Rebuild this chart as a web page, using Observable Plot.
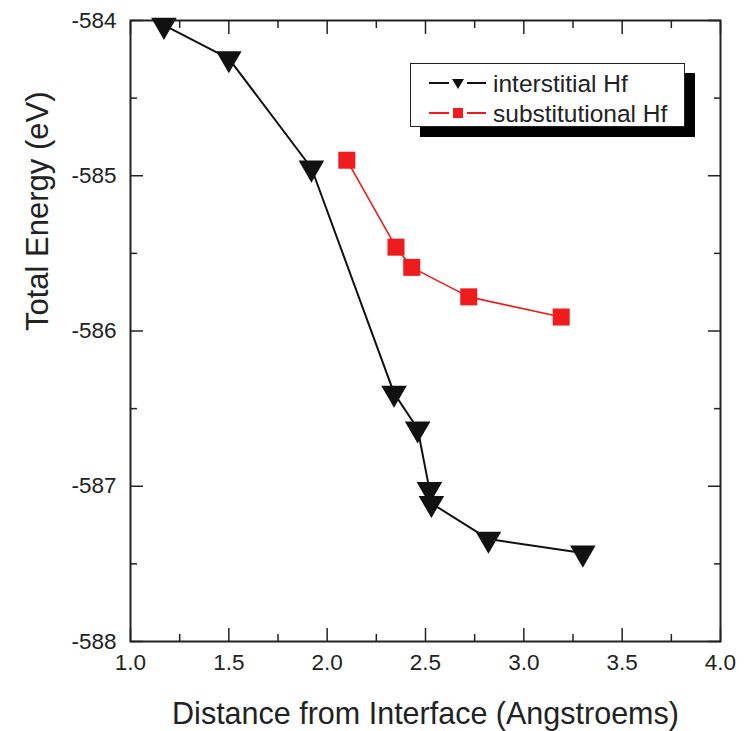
<!DOCTYPE html>
<html>
<head>
<meta charset="utf-8">
<script src="https://cdn.jsdelivr.net/npm/d3@7"></script>
<script src="https://cdn.jsdelivr.net/npm/@observablehq/plot@0.6"></script>
<style>
  html, body { margin: 0; padding: 0; background: #fff; }
  #wrap { position: relative; width: 750px; height: 731px; font-family: "Liberation Sans", Arial, sans-serif; color: #222; }
  #legend { position: absolute; left: 410px; top: 63px; width: 273px; height: 62px; border: 1.5px solid #222; background: #fff; box-shadow: 10px 10px 0 #000; }
  #legend svg { position: absolute; left: 0; top: 0; }
</style>
</head>
<body>
<div id="wrap"></div>
<script>
// ---- data ----
const interstitialX = [1.17, 1.50, 1.92, 2.34, 2.46, 2.52, 2.53, 2.82, 3.30];
const interstitialY = [-584.03, -584.245, -584.95, -586.40, -586.63, -587.02, -587.11, -587.34, -587.43];
const substitutionalX = [2.10, 2.35, 2.43, 2.72, 3.19];
const substitutionalY = [-584.90, -585.46, -585.59, -585.78, -585.91];
const seriesNames = ["interstitial Hf", "substitutional Hf"];
const seriesColors = ["#111111", "#ee1c1c"];
const xMajorTicks = [1.0, 1.5, 2.0, 2.5, 3.0, 3.5, 4.0];
const xMinorTicks = [1.25, 1.75, 2.25, 2.75, 3.25, 3.75];
const yMajorTicks = [-588, -587, -586, -585, -584];
const yMinorTicks = [-587.5, -586.5, -585.5, -584.5];
const xTitle = "Distance from Interface (Angstroems)";
const yTitle = "Total Energy (eV)";

const inter = interstitialX.map((x, i) => ({x, y: interstitialY[i]}));
const subst = substitutionalX.map((x, i) => ({x, y: substitutionalY[i]}));

const ink = "#222";
const tickMarks = (anchor, isX) => {
  const A = isX ? Plot.axisX : Plot.axisY;
  const maj = isX ? xMajorTicks : yMajorTicks;
  const min = isX ? xMinorTicks : yMinorTicks;
  return [
    A({anchor, ticks: maj, tickSize: -13, fill: "none", stroke: ink, strokeWidth: 1.5, label: null}),
    A({anchor, ticks: min, tickSize: -7, fill: "none", stroke: ink, strokeWidth: 1.5, label: null})
  ];
};

const chart = Plot.plot({
  width: 750,
  height: 731,
  marginLeft: 130,
  marginRight: 30,
  marginTop: 20,
  marginBottom: 90,
  style: {fontFamily: "'Liberation Sans', Arial, sans-serif", fontSize: "22px", color: ink, background: "#fff", overflow: "visible"},
  x: {domain: [1, 4]},
  y: {domain: [-588, -584]},
  marks: [
    ...tickMarks("bottom", true),
    ...tickMarks("top", true),
    ...tickMarks("left", false),
    ...tickMarks("right", false),
    Plot.axisX({anchor: "bottom", ticks: xMajorTicks, tickSize: 0, tickPadding: 13, tickFormat: d => d.toFixed(1), label: null, fill: ink, fontSize: 22.5}),
    Plot.axisY({anchor: "left", ticks: yMajorTicks, tickSize: 0, tickPadding: 14, tickFormat: d => String(d), label: null, fill: ink, fontSize: 22.5}),
    Plot.frame({stroke: ink, strokeWidth: 2}),
    Plot.line(inter, {x: "x", y: "y", stroke: seriesColors[0], strokeWidth: 2}),
    Plot.dot(inter, {x: "x", y: "y", symbol: "triangle", rotate: 180, r: 9.5, fill: seriesColors[0], stroke: "none"}),
    Plot.line(subst, {x: "x", y: "y", stroke: seriesColors[1], strokeWidth: 1.6}),
    Plot.dot(subst, {x: "x", y: "y", symbol: "square", r: 9.6, fill: seriesColors[1], stroke: "none"}),
    Plot.text([xTitle], {text: d => d, frameAnchor: "bottom", dy: 73, fontSize: 30.5, fill: ink, lineAnchor: "middle"}),
    Plot.text([yTitle], {text: d => d, frameAnchor: "left", dx: -92, rotate: -90, fontSize: 31, fill: ink, lineAnchor: "middle"})
  ]
});

const wrap = document.getElementById("wrap");
wrap.appendChild(chart);

// legend
const legend = document.createElement("div");
legend.id = "legend";
const ns = "http://www.w3.org/2000/svg";
const lsvg = document.createElementNS(ns, "svg");
lsvg.setAttribute("width", 273);
lsvg.setAttribute("height", 62);
const rowsY = [19, 49];
seriesNames.forEach((name, i) => {
  const y = rowsY[i];
  const line = document.createElementNS(ns, "line");
  line.setAttribute("x1", 18); line.setAttribute("x2", 75);
  line.setAttribute("y1", y); line.setAttribute("y2", y);
  line.setAttribute("stroke", seriesColors[i]); line.setAttribute("stroke-width", 2);
  lsvg.appendChild(line);
  const sym = document.createElementNS(ns, "path");
  if (i === 0) {
    sym.setAttribute("d", `M${47-6},${y-4} L${47+6},${y-4} L${47},${y+6} Z`);
  } else {
    sym.setAttribute("d", `M${47-5},${y-5} h10 v10 h-10 Z`);
  }
  sym.setAttribute("fill", seriesColors[i]);
  const gap = document.createElementNS(ns, "rect");
  gap.setAttribute("x", 38); gap.setAttribute("y", y - 3); gap.setAttribute("width", 18); gap.setAttribute("height", 6);
  gap.setAttribute("fill", "#fff");
  lsvg.appendChild(gap);
  lsvg.appendChild(sym);
  const t = document.createElementNS(ns, "text");
  t.setAttribute("x", 82); t.setAttribute("y", y);
  t.setAttribute("dy", "0.35em");
  t.setAttribute("font-size", 24.5);
  t.setAttribute("fill", ink);
  t.textContent = name;
  lsvg.appendChild(t);
});
legend.appendChild(lsvg);
wrap.appendChild(legend);
</script>
</body>
</html>
